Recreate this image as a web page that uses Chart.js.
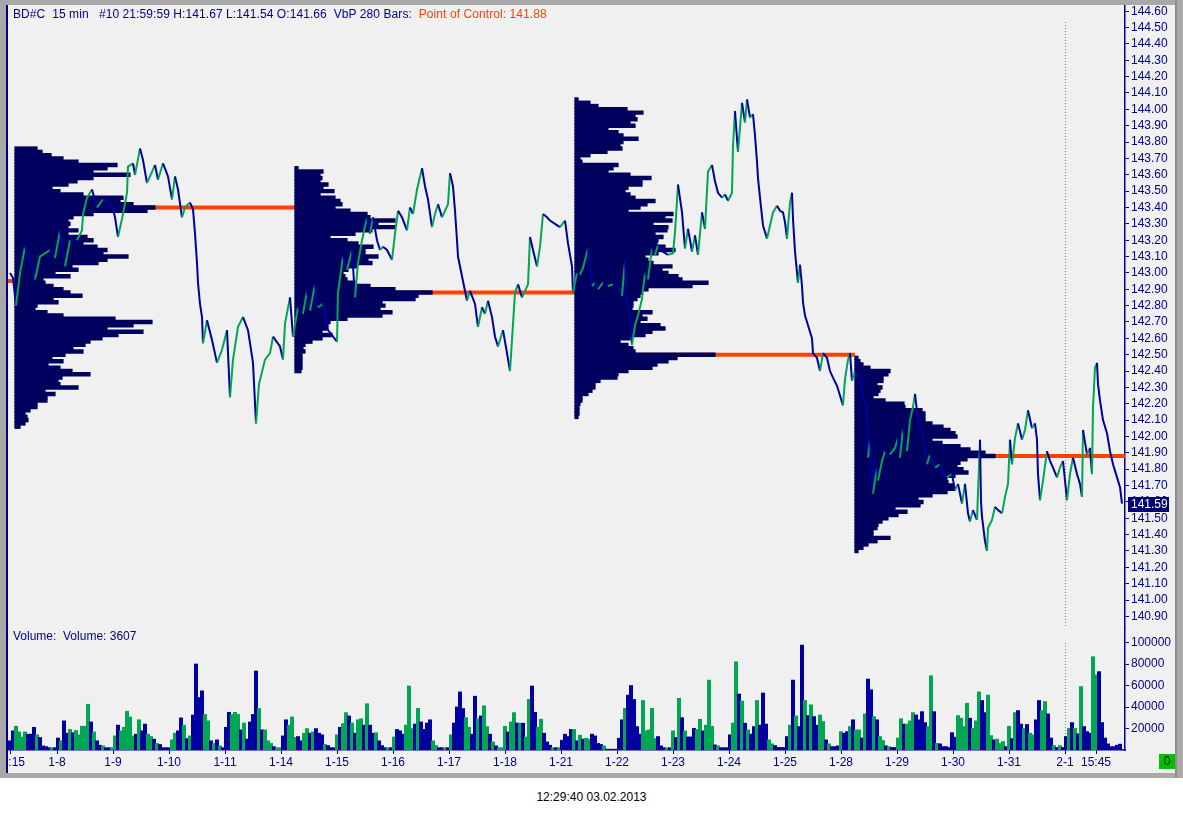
<!DOCTYPE html>
<html>
<head>
<meta charset="utf-8">
<title>BD#C 15 min</title>
<script src="https://cdn.jsdelivr.net/npm/chart.js@4.4.1/dist/chart.umd.min.js"></script>
<style>
  html, body { margin:0; padding:0; width:1183px; height:813px; overflow:hidden; background:#ffffff;
    font-family:"Liberation Sans", Arial, sans-serif; }
  .abs { position:absolute; }
  #frame { left:0; top:0; width:1183px; height:778px; background:#a8a8a8; }
  #panel { left:8px; top:5px; width:1167px; height:768px; background:#f0f0f0; }
  #topEdge { left:0; top:0; width:1183px; height:5px; background:#a8a8a8; z-index:5; }
  #leftEdge { left:0; top:0; width:6px; height:778px; background:#a8a8a8; z-index:5; }
  #leftLine { left:6px; top:5px; width:2px; height:768px; background:#00008b; z-index:5; }
  #rightEdge { left:1175px; top:0; width:8px; height:778px; background:#a8a8a8; z-index:5; }
  #rightLine { left:1175px; top:0; width:2px; height:778px; background:#8c8c8c; z-index:6; }
  #bottomEdge { left:0; top:773px; width:1183px; height:5px; background:#a8a8a8; z-index:5; }
  canvas { position:absolute; left:0; z-index:2; }
  #priceCanvas { top:0; }
  #volumeCanvas { top:628px; }
  #header { left:13px; top:7px; font-size:12px; letter-spacing:0.08px; color:#00008b; white-space:pre; z-index:3; }
  #header span { color:#ff4000; }
  #volLabel { left:13px; top:629px; font-size:12px; color:#00008b; white-space:pre; z-index:3; }
  #zeroBox { left:1159px; top:754px; width:16px; height:15px; background:#00c000; color:#003000;
    font-size:12px; text-align:center; line-height:15px; z-index:3; }
  #footer { left:0; top:790px; width:1183px; text-align:center; font-size:12px; color:#000; }
</style>
</head>
<body>
<div id="frame" class="abs"></div>
<div id="panel" class="abs"></div>
<canvas id="priceCanvas" width="1183" height="632"></canvas>
<canvas id="volumeCanvas" width="1183" height="147"></canvas>
<div id="header" class="abs">BD#C  15 min   #10 21:59:59 H:141.67 L:141.54 O:141.66  VbP 280 Bars:  <span>Point of Control: 141.88</span></div>
<div id="volLabel" class="abs">Volume:  Volume: 3607</div>
<div id="zeroBox" class="abs">0</div>
<div id="topEdge" class="abs"></div>
<div id="leftEdge" class="abs"></div>
<div id="leftLine" class="abs"></div>
<div id="rightEdge" class="abs"></div>
<div id="rightLine" class="abs"></div>
<div id="bottomEdge" class="abs"></div>
<div id="footer" class="abs">12:29:40 03.02.2013</div>
<script>
// ---------------- DATA ----------------
// time axis: 15-minute bar number (56 bars per trading day)
const tickTime  = [0, 47, 103, 159, 215, 271, 327, 383, 439, 495, 551, 607, 663, 719, 775, 831, 887, 943, 999, 1055, 1086];
const tickLabel = ['10:15','1-8','1-9','1-10','1-11','1-14','1-15','1-16','1-17','1-18','1-21','1-22','1-23','1-24','1-25','1-28','1-29','1-30','1-31','2-1','15:45'];

const priceTicks = [140.9,141.0,141.1,141.2,141.3,141.4,141.5,141.6,141.7,141.8,141.9,142.0,142.1,142.2,142.3,142.4,
  142.5,142.6,142.7,142.8,142.9,143.0,143.1,143.2,143.3,143.4,143.5,143.6,143.7,143.8,143.9,144.0,144.1,144.2,144.3,144.4,144.5,144.6];
const volumeTicks = [20000, 40000, 60000, 80000, 100000];

const priceTime = [
  0,3,6,10,15,23,25,30,40,45,
  50,55,60,67,72,73,77,82,87,93,
  100,103,105,108,113,117,118,123,125,130,
  133,137,140,145,148,153,158,162,165,168,
  172,175,180,183,185,187,188,190,192,193,
  197,202,207,212,217,220,223,228,233,238,
  243,246,249,255,260,263,270,273,275,280,
  283,288,293,297,300,305,308,313,318,327,
  328,333,337,342,345,348,352,357,360,363,
  367,370,373,377,382,385,388,392,397,400,
  403,407,412,415,418,422,425,428,432,435,
  438,440,443,445,447,448,452,457,460,465,
  468,472,475,478,482,485,488,493,497,500,
  502,505,508,512,515,518,520,523,527,530,
  533,537,540,545,550,555,558,562,563,567,
  570,573,578,582,585,588,593,598,603,608,
  612,615,617,620,622,625,628,632,635,638,
  642,645,648,653,658,663,665,668,672,675,
  678,682,685,688,692,695,698,702,705,708,
  712,715,718,722,723,725,727,728,732,735,
  737,740,743,745,747,748,750,753,757,760,
  763,767,770,773,775,777,780,782,783,785,
  788,790,792,793,795,798,802,803,807,810,
  813,817,820,823,827,830,833,835,838,840,
  842,845,848,852,853,857,858,860,862,863,
  867,868,872,875,880,885,888,890,893,897,
  900,903,905,908,912,915,917,920,925,930,
  933,937,942,945,948,952,955,958,960,963,
  967,970,971,972,975,977,978,982,985,988,
  992,995,998,1000,1002,1005,1008,1012,1015,1018,
  1022,1025,1027,1028,1030,1033,1037,1040,1043,1047,
  1050,1053,1057,1060,1063,1067,1070,1072,1073,1077,
  1080,1082,1083,1085,1087,1088,1090,1093,1097,1100,
  1103,1107,1110,1112
];
const priceValue = [
  143.00,142.97,142.80,143.00,143.16,143.02,142.96,143.10,143.14,143.09,
  143.26,143.04,143.20,143.20,143.26,143.36,143.46,143.51,143.40,143.45,
  143.43,143.39,143.34,143.22,143.36,143.49,143.65,143.67,143.60,143.76,
  143.69,143.55,143.59,143.66,143.57,143.67,143.59,143.45,143.59,143.51,
  143.34,143.40,143.43,143.39,143.24,143.06,142.94,142.81,142.73,142.57,
  142.71,142.59,142.45,142.53,142.65,142.24,142.47,142.67,142.73,142.65,
  142.45,142.08,142.32,142.47,142.51,142.61,142.55,142.47,142.69,142.85,
  142.61,142.79,142.75,142.89,142.77,142.93,142.79,142.81,142.65,142.58,
  142.88,143.10,143.02,143.14,142.85,143.06,143.20,143.34,143.24,143.34,
  143.20,143.14,143.16,143.14,143.08,143.24,143.38,143.34,143.26,143.40,
  143.36,143.51,143.64,143.53,143.45,143.28,143.36,143.42,143.34,143.38,
  143.42,143.61,143.53,143.38,143.20,143.10,142.98,142.83,142.89,142.81,
  142.67,142.79,142.75,142.83,142.73,142.61,142.55,142.65,142.51,142.40,
  142.59,142.88,142.93,142.85,142.89,142.93,143.22,143.14,143.04,143.16,
  143.36,143.34,143.32,143.30,143.28,143.32,143.18,143.04,142.88,143.00,
  142.99,143.03,143.15,142.92,142.94,142.90,142.94,142.92,142.93,142.92,
  142.86,143.07,142.80,142.74,142.56,142.68,142.74,142.84,143.00,142.96,
  143.15,143.11,143.17,143.13,143.11,143.12,143.25,143.54,143.37,143.15,
  143.27,143.13,143.23,143.11,143.37,143.27,143.62,143.66,143.56,143.49,
  143.46,143.48,143.44,143.49,143.78,143.99,143.82,143.74,144.04,143.92,
  144.06,143.95,143.97,143.84,143.68,143.58,143.46,143.29,143.21,143.29,
  143.37,143.41,143.38,143.37,143.31,143.21,143.43,143.49,143.33,143.13,
  142.94,143.05,142.92,142.82,142.74,142.68,142.60,142.51,142.48,142.40,
  142.51,142.48,142.40,142.36,142.31,142.25,142.19,142.35,142.47,142.51,
  142.34,142.40,142.38,142.30,142.24,142.18,141.87,141.98,141.81,141.65,
  141.81,141.73,141.85,141.91,141.89,141.93,141.99,141.87,142.05,141.91,
  142.10,142.18,142.26,142.10,142.04,141.93,141.83,141.89,141.81,141.83,
  141.77,141.75,141.77,141.67,141.71,141.59,141.71,141.53,141.48,141.55,
  141.49,141.98,141.60,141.51,141.36,141.30,141.44,141.49,141.57,141.55,
  141.53,141.63,141.71,141.98,141.83,141.99,142.08,141.98,142.04,142.16,
  142.05,142.08,141.98,141.77,141.61,141.73,141.91,141.85,141.81,141.75,
  141.81,141.85,141.61,141.77,141.87,141.77,141.71,141.63,142.04,141.89,
  141.93,141.77,142.18,142.42,142.45,142.32,142.22,142.10,142.02,141.91,
  141.83,141.75,141.69,141.59
];

// volume (thousands) sampled every 3 bars, with bar direction (u = up/green, d = down/navy)
const volumeEvery = 3;
const volumeK = [
  8.4,17.7,22,16.7,12,16.7,14.6,14.6,21,14, 11.5,3.7,3,2,2,2,11,8.4,27,15.5,
  19,16,18,14,22,22,42.5,26,16.7,8.4, 4.3,3.7,2,2,2,13,23,17.7,21,36,
  30.7,13,14.6,28,17.7,24,14.6,12.4,10,6, 5,2,2,2,9.3,15.5,17.7,29.8,23,10.5,
  13,32.5,80,48.7,55,33,27,8.4,6,9.3, 3.7,2,21,35,33,35,33,18.6,25,10,
  26,33,73.5,38.5,18.6,18.6,8.4,6,3,2, 2,13,28,23,30.7,11.5,12.4,8.4,15.5,19.8,
  15.5,16.7,19.8,15.5,14,5,4,2,2,14, 21,24.5,34.7,31.6,25,15.5,28,29,23,43,
  23,15.5,16,8.4,4,
  2,2,2,12,19,17.7,14.6,23,59.5,19.8, 24,38.7,26,19,25,28,8.4,4,2,2,
  2,2,14,25,40,54,38.5,30,21,14.6, 50,29,31.6,41,21.7,14.6,7.4,3.7,2,2,
  22,16.7,26,34.7,25,24.8,24.8,12,47,59.5, 35,21,28.5,15.5,7.4,4.3,2,2,2,9,
  14.6,12.4,19,19,8.4,13.6,10,10.8,10,14.6, 13,6,5,3.7,0.6,0.6,0.6,0.6,10.8,28,
  38.7,51,60,47,21.7,14.6,46,17.7,18.6,38.7, 10.5,12.4,3.7,2,2,2,17.7,11.5,48,30,
  17.7,12,12,20,19,28.5,17.7,23,65,22, 4.6,3.7,2,2,2,14,25,82,52,45.5,
  24.8,18.6,14.6,
  21.7,46,23,53,24,9.3,5.6,4,2.2,2.2, 2.2,12.4,23,65,31.6,21.7,97.6,46,32,42,
  31,23,32.5,26.4,9.3,5.6,3,3,3.7,17, 15.5,17,21.7,28,18.6,18.6,11,33.5,66,56,
  31,28,12.4,8.7,3.7,3,2.2,2.2,11,29, 24,24,27,34.7,32.5,28,35.6,25.4,21.7,69,
  35.6,6,5.6,3,3,2.2,16,11.8,32,29.5, 21.7,43.4,29.5,20,27,54,46,34.7,51,13.3,
  9.3,10,6,7.7,3,22,10.5,34.7,36.6,24, 20,23.6,15.5,14,28,46,36.6,45,33.5,11,
  4,2.2,4,2.2,12.4,20,25.4,20,15,59, 21.7,17,15.5,86.8,70,72.9,25.4,11,5.6,3,
  3,4.3,5.3
];
const volumeDir = (
  'dduuuudddu dddduddudd uduuuuudud dudduuduuu uududduudu dddduuddud udddduudud uddduuudud ddduduuudu udduuudduu dudddudddu duududuudu ddudd ' +
  'dududdduuu dudddduudd ududddduud duduududuu uduududuud duudddudud dddududuud dddudddddd uddddduuuu udddududud uddduuduuu dudddduudu dud ' +
  'duddduuddd ddududdudu dduududddu dduduududd uduududduu duuudddduu dudddddduu uuduuudduu duuudududd uduudduudd ududdududu ddduuddddd ddd'
).replace(/ /g, '').split('');

// volume-at-price profiles (280 bars each): first bar, top price level (0.02 steps), volume per level
const profileStart = [5, 285, 565, 845];
const profileTop   = [143.76, 143.64, 144.06, 142.48];
const profileVol1 = [22,27,36,48,63,102,92,78,115,78, 62,53,37,45,68,108,105,118,140,132,
  78,58,53,55,53,63,53,72,78,68, 82,92,88,113,92,83,57,63,40,55, 28,30,38,48,55,67,38,43,22,20,
  32,48,100,137,118,92,128,103,87,75, 70,58,68,50,37,48,33,45,57,75, 47,43,45,63,30,40,32,32,22,22,
  15,10,12,13,10,5];
const profileVol2 = [3,28,25,27,25,33,28,39,25,40, 45,47,40,55,72,75,100,83,100,77,
  60,35,52,63,78,70,70,83,73,77, 62,53,48,50,52,60,75,100,137,123, 120,87,90,85,97,87,52,35,33,32,
  27,37,27,17,10,8,10,7,7,7, 7,7,6];
const profileVol3 = [3,15,23,52,68,60,62,55,60,33, 43,48,63,48,45,47,32,15,5,7,
  43,38,33,55,76,67,67,53,50,55, 60,80,72,65,53,98,90,97,78,93, 92,80,88,83,82,90,100,83,70,73,
  78,97,87,93,103,107,133,117,73,67, 65,62,58,58,57,77,67,72,65,85, 90,77,70,55,45,53,58,60,140,102,
  93,82,77,53,43,42,25,20,20,17, 13,7,7,5,4,4,4,3];
const profileVol4 = [3,5,8,15,35,33,28,28,22,27, 25,23,18,30,49,50,67,70,70,70,
  77,88,95,100,102,77,87,105,115,130, 140,112,105,102,108,113,100,92,93,98,
  100,92,77,63,68,65,40,52,43,33, 27,23,22,18,18,35,22,13,8,3];
const profileVols = [profileVol1, profileVol2, profileVol3, profileVol4];

// points of control (previous profile + 4 visible profiles)
const pocPrice = [142.95, 143.40, 142.88, 142.50, 141.88];
const pocFrom  = [-2, 5, 285, 565, 845];
const pocTo    = [5, 285, 565, 845, 1115];

// ---------------- CHARTS ----------------
const NAVY = '#0000a0', GREEN = '#00a651', PROFILE = '#00005e', ORANGE = '#ff4000', AXIS = '#00008b';
const X_MIN = -2, X_MAX = 1115;
Chart.defaults.font.family = '"Liberation Sans", Arial, sans-serif';
Chart.defaults.font.size = 12;
Chart.defaults.color = AXIS;

const dayBreak = {
  id: 'dayBreak',
  beforeDatasetsDraw(chart, args, opts) {
    const x = Math.round(chart.scales.x.getPixelForValue(opts.at)) + 0.5;
    const { ctx, chartArea } = chart;
    ctx.save();
    ctx.strokeStyle = '#808080'; ctx.lineWidth = 1; ctx.setLineDash([1, 2]);
    ctx.beginPath(); ctx.moveTo(x, chartArea.top + opts.gap); ctx.lineTo(x, chartArea.bottom); ctx.stroke();
    ctx.restore();
  }
};
const lastPriceBox = {
  id: 'lastPriceBox',
  afterDraw(chart) {
    const last = priceValue[priceValue.length - 1];
    const y = chart.scales.y.getPixelForValue(last);
    const x0 = chart.chartArea.right + 3;
    const { ctx } = chart;
    ctx.save();
    ctx.fillStyle = '#000070';
    ctx.fillRect(x0, Math.round(y) - 7, 41, 15);
    ctx.fillStyle = '#ffffff';
    ctx.font = '12px "Liberation Sans", Arial, sans-serif';
    ctx.textBaseline = 'middle';
    ctx.fillText(last.toFixed(2), x0 + 3, Math.round(y) + 1);
    ctx.restore();
  }
};
const breakAt = tickTime[tickLabel.indexOf('2-1')];

const priceDatasets = [{
  type: 'line',
  data: priceTime.map((t, i) => ({ x: t, y: priceValue[i] })),
  borderColor: NAVY, borderWidth: 2, pointRadius: 0, tension: 0,
  segment: { borderColor: c => (c.p1.parsed.y > c.p0.parsed.y ? GREEN : NAVY) }
}];
profileVols.forEach((vols, k) => {
  priceDatasets.push({
    type: 'bar', indexAxis: 'y', grouped: false,
    data: vols.map((v, i) => ({ y: Math.round((profileTop[k] - 0.02 * i) * 100) / 100, x: [profileStart[k], profileStart[k] + v] })),
    backgroundColor: PROFILE, borderWidth: 0, barPercentage: 1, categoryPercentage: 1, inflateAmount: 0.6
  });
});
pocPrice.forEach((p, i) => {
  priceDatasets.push({
    type: 'line', data: [{ x: pocFrom[i], y: p }, { x: pocTo[i], y: p }],
    borderColor: ORANGE, borderWidth: 4, pointRadius: 0, borderCapStyle: 'butt'
  });
});

new Chart(document.getElementById('priceCanvas'), {
  type: 'line',
  data: { datasets: priceDatasets },
  options: {
    responsive: false, animation: false, events: [],
    layout: { padding: { left: 8, right: 7, top: 5, bottom: 4 } },
    plugins: { legend: { display: false }, tooltip: { enabled: false }, dayBreak: { at: breakAt, gap: 17 } },
    scales: {
      x: { type: 'linear', display: false, min: X_MIN, max: X_MAX, offset: false },
      y: {
        type: 'linear', position: 'right', min: 140.829, max: 144.638, offset: false,
        afterBuildTicks: s => { s.ticks = priceTicks.map(v => ({ value: v })); },
        grid: { drawOnChartArea: false, tickLength: 4, color: AXIS, offset: false },
        border: { color: AXIS, width: 1.5 },
        ticks: { autoSkip: false, padding: 2, color: AXIS, callback: v => Number(v).toFixed(2) },
        afterFit: s => { s.width = 51; s.paddingTop = 0; s.paddingBottom = 0; }
      }
    }
  },
  plugins: [dayBreak, lastPriceBox]
});

new Chart(document.getElementById('volumeCanvas'), {
  type: 'bar',
  data: {
    datasets: [{
      data: volumeK.map((v, i) => ({ x: i * volumeEvery, y: v * 1000 })),
      backgroundColor: volumeK.map((v, i) => (volumeDir[i] === 'u' ? GREEN : NAVY)),
      borderWidth: 0, barPercentage: 1, categoryPercentage: 1, grouped: false, inflateAmount: 0.5
    }]
  },
  options: {
    responsive: false, animation: false, events: [],
    layout: { padding: { left: 8, right: 7, top: 0, bottom: 3 } },
    plugins: { legend: { display: false }, tooltip: { enabled: false }, dayBreak: { at: breakAt, gap: 15 } },
    scales: {
      x: {
        type: 'linear', min: X_MIN, max: X_MAX, offset: false, position: 'bottom',
        afterBuildTicks: s => { s.ticks = tickTime.map(v => ({ value: v })); },
        grid: { drawOnChartArea: false, tickLength: 4, color: AXIS, offset: false },
        border: { color: AXIS, width: 1.5 },
        ticks: { autoSkip: false, maxRotation: 0, minRotation: 0, padding: 1, color: AXIS, callback: (v, i) => tickLabel[i] },
        afterFit: s => { s.height = 22; s.paddingLeft = 0; s.paddingRight = 0; }
      },
      y: {
        type: 'linear', position: 'right', min: 0, max: 113700,
        afterBuildTicks: s => { s.ticks = volumeTicks.map(v => ({ value: v })); },
        grid: { drawOnChartArea: false, tickLength: 4, color: AXIS },
        border: { color: AXIS, width: 1.5 },
        ticks: { autoSkip: false, padding: 2, color: AXIS, callback: v => String(v) },
        afterFit: s => { s.width = 51; s.paddingTop = 0; s.paddingBottom = 0; }
      }
    }
  },
  plugins: [dayBreak]
});
</script>
</body>
</html>
